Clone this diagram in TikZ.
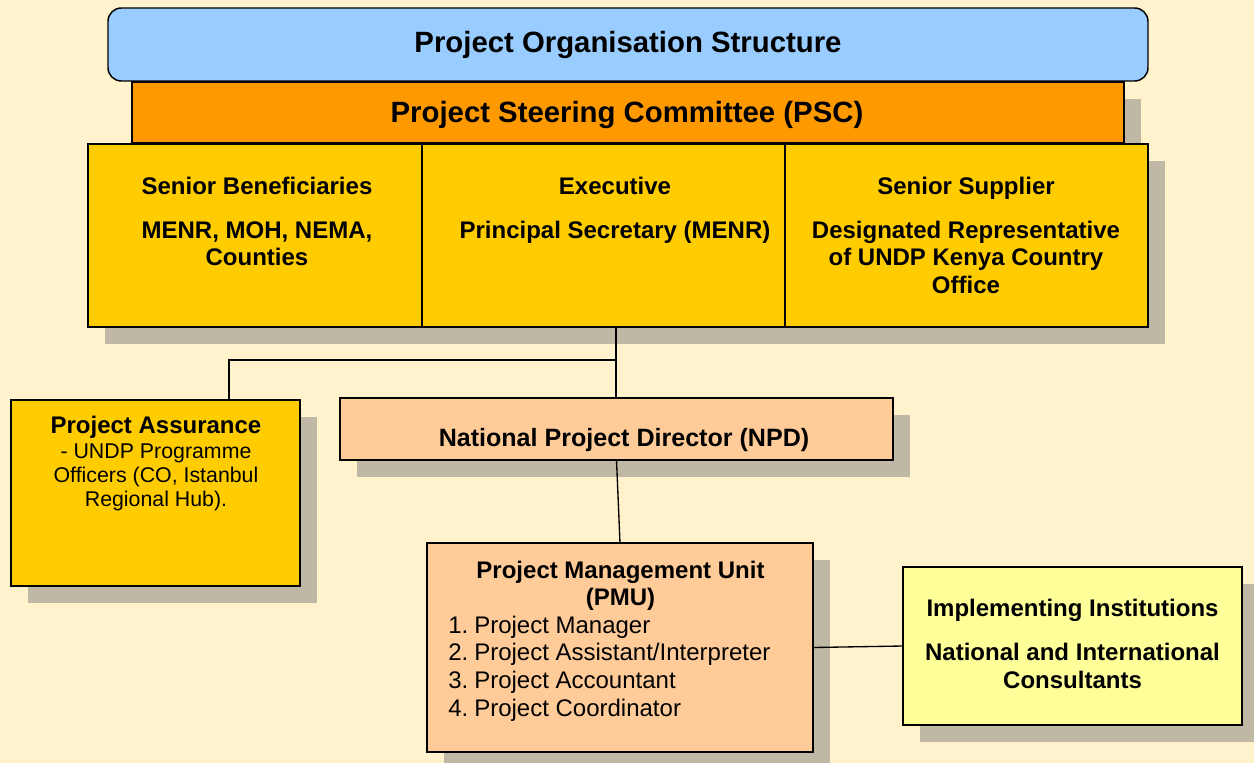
\documentclass[tikz,border=0pt]{standalone}
\usepackage{fontspec}
\setmainfont{Liberation Sans}
\usetikzlibrary{positioning,shadows}

\definecolor{pagecream}{HTML}{FFF2CC}
\definecolor{titleblue}{HTML}{99CCFF}
\definecolor{pscorange}{HTML}{FF9900}
\definecolor{boardgold}{HTML}{FFCC00}
\definecolor{unitpeach}{HTML}{FFCC99}
\definecolor{partnerlemon}{HTML}{FFFF99}

\begin{document}
\begin{tikzpicture}[x=0.75pt,y=-0.75pt,
    box/.style={draw=black,line width=1.1pt,inner sep=0pt,outer sep=0pt},
    shadowed/.style={drop shadow={shadow xshift=12.5pt,shadow yshift=-13pt,fill=black!50,opacity=0.5}},
    boldtext/.style={font=\bfseries\fontsize{18}{20.7}\selectfont,align=center,inner sep=0pt},
    plaintext/.style={font=\fontsize{18}{20.8}\selectfont,inner sep=0pt},
    link/.style={draw=black,line width=1pt}]

    % page background
    \fill[pagecream] (0,0) rectangle (1254,763);

    % board
    \node[box,fill=titleblue,rounded corners=10pt,minimum width=780pt,minimum height=54.75pt,
          font=\bfseries\fontsize{22}{26}\selectfont] (title) at (628,44.5) {Project Organisation Structure};
    \node[box,shadowed,fill=pscorange,minimum width=744pt,minimum height=45.75pt] (psc) at (628,112.5) {};
    \node[font=\bfseries\fontsize{22}{26}\selectfont,inner sep=0pt,anchor=base] (psctext) at (627,123)
        {Project Steering Committee (PSC)};
    \node[box,shadowed,fill=boardgold,minimum width=250.5pt,minimum height=137.25pt] (sb) at (255,235.5) {};
    \node[box,shadowed,fill=boardgold,minimum width=272.25pt,minimum height=137.25pt] (exe) at (603.5,235.5) {};
    \node[box,shadowed,fill=boardgold,minimum width=272.25pt,minimum height=137.25pt] (ss) at (966.5,235.5) {};

    \node[boldtext,anchor=north] (sbtext) at (257,176.5) {Senior Beneficiaries\\[12.3pt] MENR, MOH, NEMA,\\ Counties};
    \node[boldtext,anchor=north] (exetext) at (615,176.5) {Executive\\[12.3pt] Principal Secretary (MENR)};
    \node[boldtext,anchor=north] (sstext) at (966,176.5) {Senior Supplier\\[12.3pt] Designated Representative\\ of UNDP Kenya Country\\ Office};

    % assurance and management
    \node[box,shadowed,fill=boardgold,minimum width=216.75pt,minimum height=139.5pt] (pa) at (155.5,493) {};
    \node[font=\fontsize{16}{18}\selectfont,align=center,inner sep=0pt,anchor=north] (patext) at (156,416)
        {{\bfseries\fontsize{18}{18}\selectfont Project Assurance}\\[0.8pt] - UNDP Programme\\ Officers (CO, Istanbul\\ Regional Hub).};

    \node[box,shadowed,fill=unitpeach,minimum width=414.75pt,minimum height=46.5pt] (npd) at (616.5,429) {};
    \node[boldtext,font=\bfseries\fontsize{18.8}{21}\selectfont,anchor=base] (npdtext) at (624,446.5) {National Project Director (NPD)};

    \node[box,shadowed,fill=unitpeach,minimum width=289.5pt,minimum height=156.75pt] (pmu) at (620,647.5) {};
    \node[boldtext,font=\bfseries\fontsize{18}{20}\selectfont,anchor=north] (pmuhead) at (620.5,561) {Project Management Unit\\ (PMU)};
    \node[plaintext,align=left,anchor=north west] (pmulist) at (448,615.5)
        {1.\hspace{4.5pt}Project Manager\\ 2.\hspace{4.5pt}Project Assistant/Interpreter\\ 3.\hspace{4.5pt}Project Accountant\\ 4.\hspace{4.5pt}Project Coordinator};

    \node[box,shadowed,fill=partnerlemon,minimum width=254.25pt,minimum height=118.5pt] (impl) at (1072.5,646) {};
    \node[boldtext,anchor=north] (impltext) at (1072.5,599) {Implementing Institutions\\[12.3pt] National and International\\ Consultants};

    % connectors
    \coordinate (hub) at (616,360);
    \coordinate (pajoin) at (229,360);
    \draw[link] (hub |- exe.south) -- (hub) -- (pajoin) -- (pajoin |- pa.north);
    \draw[link] (hub) -- (hub |- npd.north);
    \draw[link] (npd.south) -- (pmu.north);
    \draw[link] (pmu.east) -- (impl.west);
\end{tikzpicture}
\end{document}
